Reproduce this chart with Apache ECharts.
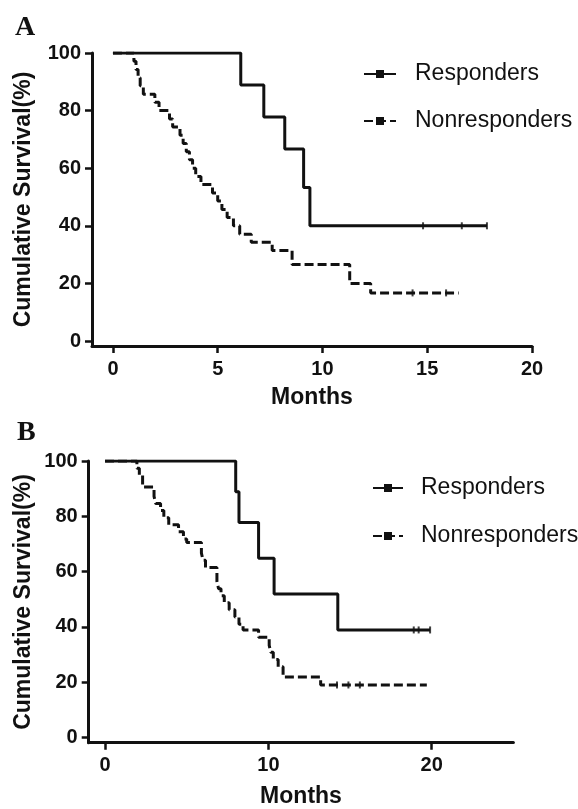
<!DOCTYPE html>
<html>
<head>
<meta charset="utf-8">
<script src="https://cdn.jsdelivr.net/npm/echarts@6/dist/echarts.min.js"></script>
<style>
html,body{margin:0;padding:0;background:#fff;}
#chart{width:578px;height:809px;}
</style>
</head>
<body>
<div id="chart"></div>
<script>
// ---------- Panel A ----------
const A_X_TICKS = [0, 5, 10, 15, 20];
const A_Y_TICKS = [0, 20, 40, 60, 80, 100];
const A_RESP_T = [0, 6.1, 7.2, 8.2, 9.1, 9.4, 17.85];
const A_RESP_S = [100, 88.9, 77.8, 66.7, 53.3, 40.0, 40.0];
const A_RESP_CENS_T = [14.8, 16.65, 17.85];
const A_RESP_CENS_S = [40.0, 40.0, 40.0];
const A_NR_T = [0, 1.0, 1.1, 1.2, 1.3, 1.45, 2.0, 2.2, 2.7, 2.85, 3.2, 3.35, 3.5, 3.65, 3.8, 3.95, 4.2, 4.75, 5.0, 5.2, 5.45, 5.75, 6.05, 6.6, 7.6, 8.55, 11.3, 12.3, 16.5];
const A_NR_S = [100, 97.1, 94.3, 91.4, 88.6, 85.7, 82.9, 80.0, 77.1, 74.3, 71.4, 68.6, 65.7, 62.9, 60.0, 57.1, 54.3, 51.4, 48.6, 45.7, 42.9, 40.0, 37.1, 34.3, 31.4, 26.6, 20.0, 16.7, 16.7];
const A_NR_CENS_T = [14.3, 15.9];
const A_NR_CENS_S = [16.7, 16.7];

// ---------- Panel B ----------
const B_X_TICKS = [0, 10, 20];
const B_Y_TICKS = [0, 20, 40, 60, 80, 100];
const B_RESP_T = [0, 8.0, 8.2, 9.4, 10.35, 14.25, 19.9];
const B_RESP_S = [100, 88.9, 77.8, 64.8, 51.9, 38.9, 38.9];
const B_RESP_CENS_T = [18.9, 19.2, 19.9];
const B_RESP_CENS_S = [38.9, 38.9, 38.9];
const B_NR_T = [0, 1.95, 2.1, 2.3, 3.0, 3.1, 3.4, 3.6, 3.9, 4.5, 4.8, 5.0, 5.9, 6.0, 6.15, 6.85, 6.95, 7.1, 7.3, 7.6, 7.95, 8.2, 8.45, 9.4, 10.05, 10.15, 10.3, 10.6, 10.9, 13.2, 19.7];
const B_NR_S = [100, 97.4, 94.9, 90.6, 87.2, 84.6, 82.1, 79.5, 76.9, 74.4, 71.8, 70.5, 66.7, 64.1, 61.5, 56.4, 53.8, 51.3, 48.7, 46.2, 43.6, 41.0, 38.9, 36.3, 33.3, 30.8, 28.2, 25.6, 21.9, 19.0, 19.0];
const B_NR_CENS_T = [14.2, 14.9, 15.6];
const B_NR_CENS_S = [19.0, 19.0, 19.0];

const SERIES_NAMES = ['Responders', 'Nonresponders'];

const INK = '#111';
const SANS = '"Liberation Sans", Arial, Helvetica, sans-serif';
const SERIF = '"Liberation Serif", "Times New Roman", serif';
const TICK_ICON = 'path://M0,0 L1.5,0 L1.5,10 L0,10 Z';

function pairs(t, s) { return t.map((v, i) => [v, s[i]]); }

function xAxisCfg(gridIndex, max, ticks) {
  return {
    type: 'value', gridIndex, min: -1, max,
    axisLine: { show: true, onZero: false, lineStyle: { color: INK, width: 3 } },
    axisTick: { show: true, customValues: ticks, length: 7, lineStyle: { color: INK, width: 2.5 } },
    axisLabel: { customValues: ticks, fontSize: 20, fontWeight: 'bold', fontFamily: SANS, color: INK, margin: 13 },
    splitLine: { show: false }
  };
}
function yAxisCfg(gridIndex, min, ticks) {
  return {
    type: 'value', gridIndex, min, max: 100,
    axisLine: { show: true, onZero: false, lineStyle: { color: INK, width: 3 } },
    axisTick: { show: true, customValues: ticks, length: 7, lineStyle: { color: INK, width: 2.5 } },
    axisLabel: { customValues: ticks, fontSize: 20, fontWeight: 'bold', fontFamily: SANS, color: INK, margin: 11 },
    splitLine: { show: false }
  };
}
function kmLine(name, idx, t, s, dashed) {
  return {
    name, type: 'line', step: 'end', xAxisIndex: idx, yAxisIndex: idx,
    data: pairs(t, s), symbol: TICK_ICON, symbolSize: [2, 8], symbolKeepAspect: true,
    showSymbol: false, silent: true,
    lineStyle: { color: INK, width: 3, type: dashed ? [9, 4] : 'solid' },
    itemStyle: { color: INK, borderWidth: 0 }
  };
}
function censor(idx, t, s) {
  return {
    type: 'scatter', xAxisIndex: idx, yAxisIndex: idx, silent: true,
    data: pairs(t, s), symbol: 'rect', symbolSize: [2, 7],
    itemStyle: { color: INK }
  };
}
function legendCfg(left, top, iw, gap, pad) {
  return {
    data: SERIES_NAMES,
    orient: 'vertical', left, top, symbolKeepAspect: true,
    itemWidth: iw, itemHeight: 10, itemGap: gap, selectedMode: false,
    itemStyle: { borderWidth: 0 },
    textStyle: { fontSize: 23, fontFamily: SANS, color: INK, lineHeight: 24, padding: [0, 0, 0, pad] }
  };
}
function txt(text, x, y, font, rot) {
  return {
    type: 'text', x, y, rotation: rot || 0, silent: true,
    style: { text, font, fill: INK, align: 'center', verticalAlign: 'middle' }
  };
}

const chart = echarts.init(document.getElementById('chart'), null, { renderer: 'canvas' });
chart.setOption({
  animation: false,
  backgroundColor: '#fff',
  grid: [
    { left: 92, top: 53, width: 440, height: 293 },
    { left: 88.7, top: 461, width: 424.7, height: 281.7 }
  ],
  xAxis: [xAxisCfg(0, 20, A_X_TICKS), xAxisCfg(1, 25, B_X_TICKS)],
  yAxis: [yAxisCfg(0, -1.74, A_Y_TICKS), yAxisCfg(1, -1.88, B_Y_TICKS)],
  legend: [legendCfg(358, 57, 32, 23, 14), legendCfg(367, 471, 30, 24, 13)],
  series: [
    kmLine(SERIES_NAMES[0], 0, A_RESP_T, A_RESP_S, false),
    kmLine(SERIES_NAMES[1], 0, A_NR_T, A_NR_S, true),
    censor(0, A_RESP_CENS_T, A_RESP_CENS_S),
    censor(0, A_NR_CENS_T, A_NR_CENS_S),
    kmLine(SERIES_NAMES[0], 1, B_RESP_T, B_RESP_S, false),
    kmLine(SERIES_NAMES[1], 1, B_NR_T, B_NR_S, true),
    censor(1, B_RESP_CENS_T, B_RESP_CENS_S),
    censor(1, B_NR_CENS_T, B_NR_CENS_S)
  ],
  graphic: [
    { type: 'text', x: 15, y: 27.5, silent: true, style: { text: 'A', font: 'bold 28px ' + SERIF, fill: INK, align: 'left', verticalAlign: 'middle' } },
    { type: 'text', x: 17, y: 432.5, silent: true, style: { text: 'B', font: 'bold 28px ' + SERIF, fill: INK, align: 'left', verticalAlign: 'middle' } },
    txt('Cumulative Survival(%)', 24, 199.5, 'bold 23px ' + SANS, Math.PI / 2),
    txt('Cumulative Survival(%)', 24, 602, 'bold 23px ' + SANS, Math.PI / 2),
    txt('Months', 312, 398, 'bold 23px ' + SANS),
    txt('Months', 301, 797, 'bold 23px ' + SANS)
  ]
});
</script>
</body>
</html>
